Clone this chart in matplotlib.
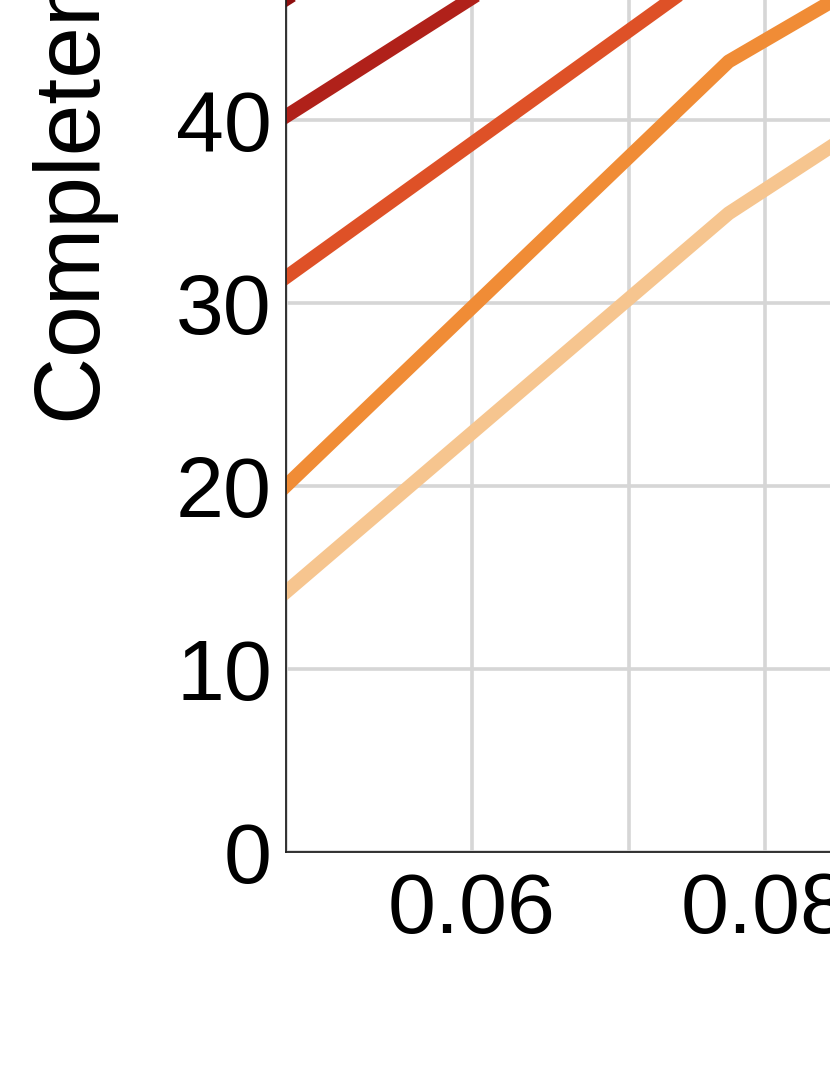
import matplotlib
matplotlib.use("Agg")
import matplotlib.pyplot as plt
from matplotlib.ticker import FixedLocator, FixedFormatter, NullFormatter

plt.rcParams['font.family'] = ['Liberation Sans', 'DejaVu Sans']

# x positions of the measured points (log axis)
x_vals = [0.05, 0.0772, 0.1]

# completeness (%) per series, darkest to lightest
series_a = [46.6, 62.0, 68.0]
series_b = [40.2, 55.6, 60.0]
series_c = [31.4, 48.8, 54.0]
series_d = [20.0, 43.2, 51.6]
series_e = [14.2, 34.9, 44.3]

colors = ['#8e0f0f', '#b0211a', '#de5127', '#f08c36', '#f6c58f']

fig = plt.figure(figsize=(8.3, 10.75), dpi=100)
# the axes run past the right and top edges of the figure (cropped view)
ax = fig.add_axes([285.8 / 830, 223 / 1075, 706.7 / 830, 915 / 1075])

for ys, c in zip([series_a, series_b, series_c, series_d, series_e], colors):
    ax.plot(x_vals, ys, color=c, lw=10, solid_joinstyle='round', zorder=2)

ax.set_xscale('log')
ax.set_xlim(0.05, 0.1)
ax.set_ylim(0, 50)

ax.xaxis.set_major_locator(FixedLocator([0.06, 0.08, 0.1]))
ax.xaxis.set_minor_locator(FixedLocator([0.05, 0.07, 0.09]))
ax.xaxis.set_major_formatter(FixedFormatter(['0.06', '0.08', '0.1']))
ax.xaxis.set_minor_formatter(NullFormatter())
ax.set_yticks([0, 10, 20, 30, 40, 50])

ax.grid(True, which='both', color='#d6d6d6', lw=2.6)
ax.set_axisbelow(True)

ax.tick_params(axis='both', which='both', length=0, labelsize=62, colors='black')
ax.tick_params(axis='x', pad=14)
ax.tick_params(axis='y', pad=10)

for side in ['left', 'bottom']:
    ax.spines[side].set_color('#222222')
    ax.spines[side].set_linewidth(1.3)

fig.text(100 / 830, 1 - 424 / 1075, 'Completeness (%)', rotation=90,
         rotation_mode='anchor', ha='left', va='baseline', fontsize=67)

fig.savefig('out.png', dpi=100)
